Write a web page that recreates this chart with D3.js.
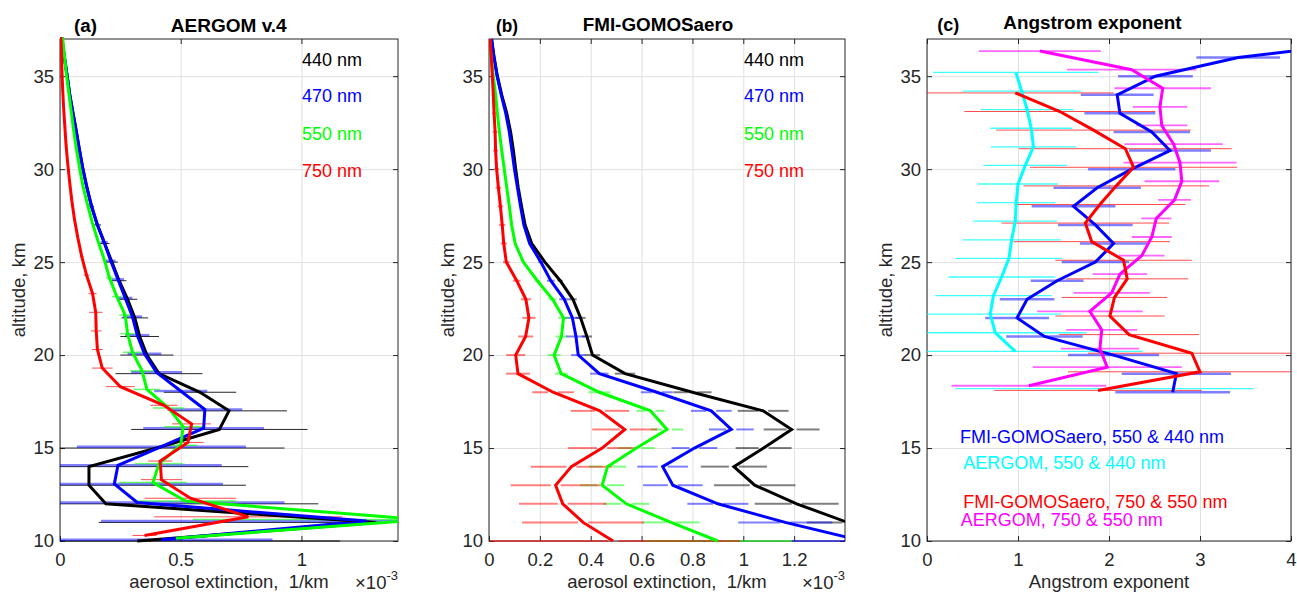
<!DOCTYPE html>
<html><head><meta charset="utf-8">
<script src="https://cdn.jsdelivr.net/npm/d3@7"></script>
<style>
body{margin:0;background:#fff}
svg{display:block}
text{font-family:"Liberation Sans",Arial,Helvetica,sans-serif}
</style>
</head><body>
<svg id="chart" width="1297" height="593"></svg>
<script>
// ---------------- DATA ----------------
// Panel (a) and (b): altitude grid, km
const altKm = [10,11,12,13,14,15,16,17,18,19,20,21,22,23,24,25,26,27,28,29,30,31,32,33,34,35,36,37];
// aerosol extinction in units of 1e-3 1/km
const aergom440    = [0.32,1.31,0.19,0.12,0.12,0.40,0.66,0.70,0.58,0.41,0.36,0.33,0.31,0.28,0.245,0.215,0.185,0.155,0.13,0.112,0.095,0.081,0.068,0.054,0.04,0.03,0.018,0.007];
const aergom440Err = [0.84,1.15,0.88,0.65,0.66,0.53,0.365,0.24,0.15,0.18,0.11,0.08,0.055,0.04,0.03,0.025,0.02,0.015,0.01,0,0,0,0,0,0,0,0,0];
const aergom470    = [0.42,1.27,0.32,0.225,0.24,0.42,0.595,0.60,0.50,0.40,0.35,0.32,0.30,0.27,0.24,0.21,0.183,0.153,0.13,0.11,0.094,0.08,0.067,0.053,0.04,0.029,0.018,0.008];
const aergom470Err = [0.46,1.1,0.61,0.45,0.43,0.35,0.25,0.155,0.11,0.105,0.07,0.05,0.04,0.03,0.025,0.02,0.015,0,0,0,0,0,0,0,0,0,0,0];
const aergom550    = [0.48,1.50,0.52,0.385,0.41,0.50,0.51,0.45,0.36,0.34,0.30,0.28,0.27,0.235,0.205,0.183,0.157,0.133,0.113,0.094,0.08,0.067,0.056,0.046,0.036,0.026,0.018,0.01];
const aergom550Err = [0.035,0.95,0.21,0.14,0.1,0.07,0.08,0.065,0.055,0.05,0.04,0.03,0.025,0.02,0.015,0,0,0,0,0,0,0,0,0,0,0,0,0];
const aergom750    = [0.35,0.78,0.54,0.42,0.415,0.53,0.545,0.43,0.25,0.175,0.155,0.15,0.148,0.135,0.11,0.09,0.074,0.06,0.049,0.04,0.032,0.025,0.02,0.015,0.011,0.008,0.006,0.003];
const aergom750Err = [0.05,0.39,0.19,0.085,0.05,0.065,0.08,0.057,0.06,0.043,0.022,0.022,0.028,0.017,0.012,0.008,0,0,0,0,0,0,0,0,0,0,0,0];

const fmi440    = [1.75,1.41,1.21,1.045,0.963,1.08,1.19,1.078,0.80,0.535,0.407,0.385,0.36,0.33,0.28,0.22,0.168,0.142,0.128,0.115,0.105,0.096,0.085,0.07,0.05,0.033,0.02,0.01];
const fmi440Err = [0.2,0.16,0.165,0.16,0.13,0.11,0.11,0.1,0.075,0.04,0.03,0.02,0.02,0.015,0.01,0,0,0,0,0,0,0,0,0,0,0,0,0];
const fmi470    = [1.47,1.165,0.90,0.723,0.683,0.808,0.953,0.874,0.66,0.434,0.351,0.342,0.328,0.296,0.243,0.204,0.16,0.137,0.124,0.112,0.10,0.09,0.08,0.066,0.048,0.032,0.02,0.01];
const fmi470Err = [0.28,0.185,0.12,0.117,0.1,0.09,0.088,0.08,0.063,0.036,0.028,0.04,0.033,0.02,0.015,0.01,0,0,0,0,0,0,0,0,0,0,0,0];
const fmi550    = [0.90,0.716,0.54,0.445,0.466,0.58,0.70,0.635,0.434,0.284,0.256,0.285,0.293,0.25,0.19,0.135,0.103,0.089,0.08,0.07,0.06,0.05,0.041,0.033,0.026,0.017,0.009,0.002];
const fmi550Err = [0.29,0.112,0.09,0.087,0.073,0.072,0.064,0.055,0.043,0.025,0.025,0.023,0.02,0.015,0.01,0,0,0,0,0,0,0,0,0,0,0,0,0];
const fmi750    = [0.488,0.37,0.29,0.262,0.324,0.445,0.534,0.436,0.252,0.114,0.105,0.144,0.157,0.145,0.109,0.068,0.058,0.052,0.045,0.037,0.03,0.026,0.024,0.02,0.017,0.013,0.009,0.004];
const fmi750Err = [0.5,0.24,0.172,0.177,0.16,0.135,0.128,0.115,0.082,0.047,0.037,0.03,0.026,0.02,0.015,0.013,0.012,0.012,0.011,0.011,0.01,0.01,0.009,0.008,0.007,0.006,0,0];

// Panel (c): Angstrom exponent
const altAE = [18,19,20,21,22,23,24,25,26,27,28,29,30,31,32,33,34,35,36,37];
const fmiAE550_440    = [2.70,2.74,2.05,1.29,0.99,1.10,1.43,1.85,2.05,1.85,1.61,1.87,2.25,2.67,2.47,2.12,2.09,2.51,3.42,5.1];
const fmiAE550_440Err = [0.63,0.6,0.5,0.42,0.35,0.3,0.29,0.37,0.37,0.41,0.46,0.48,0.48,0.45,0.42,0.39,0.4,0.41,0.46,0.5];
const fmiAE750_550    = [1.88,3.0,2.91,2.22,2.01,2.06,2.2,2.16,1.81,1.74,1.9,2.08,2.27,2.18,1.83,1.46,0.97,null,null,null];
const fmiAE750_550Err = [1.14,1.45,1.14,0.77,0.6,0.58,0.67,0.75,0.86,0.92,0.94,1.02,1.14,1.17,1.07,1.05,1.08,null,null,null];
const aergomAE550_440    = [1.95,null,0.97,0.75,0.695,0.73,0.82,0.9,0.93,0.97,0.98,1.0,1.08,1.17,1.145,1.1,1.04,0.977,null,null];
const aergomAE550_440Err = [1.64,null,1.4,1.0,0.78,0.64,0.585,0.585,0.54,0.46,0.43,0.44,0.46,0.47,0.45,0.51,0.65,0.91,null,null];
const aergomAE750_550    = [1.12,1.98,1.9,1.92,1.79,2.03,2.12,2.36,2.47,2.52,2.72,2.8,2.78,2.71,2.58,2.56,2.59,2.25,1.24,null];
const aergomAE750_550Err = [0.85,0.82,0.43,0.39,0.58,0.42,0.3,0.25,0.22,0.165,0.18,0.41,0.62,0.54,0.28,0.3,0.53,0.71,0.67,null];

// Tick values / labels
const yTicks = [10,15,20,25,30,35];
const xTicksA = [0,0.5,1];
const xTicksB = [0,0.2,0.4,0.6,0.8,1,1.2];
const xTicksC = [0,1,2,3,4];
const wavelengthLabels = ["440 nm","470 nm","550 nm","750 nm"];
const aeLabels = ["FMI-GOMOSaero, 550 & 440 nm","AERGOM, 550 & 440 nm","FMI-GOMOSaero, 750 & 550 nm","AERGOM, 750 & 550 nm"];

// ---------------- DRAWING ----------------
const svg = d3.select('#chart');
const TOP = 39, BOTTOM = 541;
const AX = '#262626', GRID = '#e0e0e0';
const FS = 18.5;

function mk(alt, vals, errs, opt){ return Object.assign({alt, vals, errs}, opt); }

const panels = [
  { id:'a', left:60, right:398, xDomain:[0,1.4], xTicks:xTicksA, fmt:d=>String(d),
    xlabel:'aerosol extinction,  1/km', exp:true,
    tag:'(a)', tagX:74, tagY:32.3, tagW:23,
    title:'AERGOM v.4', titleX:170.7, titleY:32.3, titleW:116,
    series:[
      mk(altKm, aergom440, aergom440Err, {off:0,    color:'#000000', barColor:'#000000', barW:1,   barOp:0.85}),
      mk(altKm, aergom470, aergom470Err, {off:0.07, color:'#0000ff', barColor:'#0000ff', barW:2.5, barOp:0.5}),
      mk(altKm, aergom550, aergom550Err, {off:0.15, color:'#00ff00', barColor:'#00ff00', barW:1.5, barOp:0.6}),
      mk(altKm, aergom750, aergom750Err, {off:0.3,  color:'#ff0000', barColor:'#ff0000', barW:1,   barOp:0.7})
    ],
    legend:{x:302, ys:[66,102,139.5,176.5], labels:wavelengthLabels, colors:['#000000','#0000ff','#00ff00','#ff0000']}
  },
  { id:'b', left:489, right:845, xDomain:[0,1.4], xTicks:xTicksB, fmt:d=>String(d),
    xlabel:'aerosol extinction,  1/km', exp:true,
    tag:'(b)', tagX:496, tagY:32.3, tagW:22,
    title:'FMI-GOMOSaero', titleX:582.7, titleY:30.7, titleW:150.7,
    series:[
      mk(altKm, fmi440, fmi440Err, {off:0, color:'#000000', barColor:'#000000', barW:2, barOp:0.5, gap:5}),
      mk(altKm, fmi470, fmi470Err, {off:0, color:'#0000ff', barColor:'#0000ff', barW:2, barOp:0.5, gap:5}),
      mk(altKm, fmi550, fmi550Err, {off:0, color:'#00ff00', barColor:'#00ff00', barW:2, barOp:0.5, gap:5}),
      mk(altKm, fmi750, fmi750Err, {off:0, color:'#ff0000', barColor:'#ff0000', barW:2, barOp:0.5, gap:5})
    ],
    legend:{x:744, ys:[66,102,139.5,176.5], labels:wavelengthLabels, colors:['#000000','#0000ff','#00ff00','#ff0000']}
  },
  { id:'c', left:927, right:1291, xDomain:[0,4], xTicks:xTicksC, fmt:d=>String(d),
    xlabel:'Angstrom exponent', exp:false,
    tag:'(c)', tagX:937.3, tagY:30.7, tagW:22,
    title:'Angstrom exponent', titleX:1003.3, titleY:29.3, titleW:178.3,
    series:[
      mk(altAE, aergomAE550_440, aergomAE550_440Err, {off:0.2,  color:'#00ffff', barColor:'#00ffff', barW:1.3, barOp:0.75}),
      mk(altAE, fmiAE550_440,    fmiAE550_440Err,    {off:0,    color:'#0000ff', barColor:'#0000ff', barW:2.5, barOp:0.5}),
      mk(altAE, aergomAE750_550, aergomAE750_550Err, {off:0.35, color:'#ff00ff', barColor:'#ff00ff', barW:1.8, barOp:0.6}),
      mk(altAE, fmiAE750_550,    fmiAE750_550Err,    {off:0.1,  color:'#ff0000', barColor:'#ff0000', barW:1,   barOp:0.7})
    ],
    legend:{x:[960,963.3,963.3,960.7], ys:[443,469,508,526], labels:aeLabels, colors:['#0000ff','#00ffff','#ff0000','#ff00ff']}
  }
];

const y = d3.scaleLinear().domain([10,37]).range([BOTTOM, TOP]);

panels.forEach(p => {
  const g = svg.append('g');
  const x = d3.scaleLinear().domain(p.xDomain).range([p.left, p.right]);
  const W = p.right - p.left, H = BOTTOM - TOP;

  // grid
  g.append('g').attr('transform', `translate(0,${BOTTOM})`)
    .call(d3.axisBottom(x).tickValues(p.xTicks).tickSize(-H).tickFormat(''))
    .call(s => { s.select('.domain').remove(); s.selectAll('line').attr('stroke', GRID); });
  g.append('g').attr('transform', `translate(${p.left},0)`)
    .call(d3.axisLeft(y).tickValues(yTicks).tickSize(-W).tickFormat(''))
    .call(s => { s.select('.domain').remove(); s.selectAll('line').attr('stroke', GRID); });

  // frame
  g.append('rect').attr('x', p.left).attr('y', TOP).attr('width', W).attr('height', H)
    .attr('fill', 'none').attr('stroke', AX).attr('stroke-width', 1);

  const styleAxis = s => {
    s.select('.domain').remove();
    s.selectAll('line').attr('stroke', AX);
    s.attr('font-size', FS).attr('font-family', '"Liberation Sans",Arial,Helvetica,sans-serif');
    s.selectAll('text').attr('fill', AX);
  };
  g.append('g').attr('transform', `translate(0,${BOTTOM})`)
    .call(d3.axisBottom(x).tickValues(p.xTicks).tickSizeInner(-5).tickSizeOuter(0).tickPadding(12).tickFormat(p.fmt)).call(styleAxis);
  g.append('g').attr('transform', `translate(0,${TOP})`)
    .call(d3.axisTop(x).tickValues(p.xTicks).tickSizeInner(-5).tickSizeOuter(0).tickFormat('')).call(styleAxis);
  g.append('g').attr('transform', `translate(${p.left},0)`)
    .call(d3.axisLeft(y).tickValues(yTicks).tickSizeInner(-5).tickSizeOuter(0).tickPadding(6)).call(styleAxis);
  g.append('g').attr('transform', `translate(${p.right},0)`)
    .call(d3.axisRight(y).tickValues(yTicks).tickSizeInner(-5).tickSizeOuter(0).tickFormat('')).call(styleAxis);

  // clip
  const clipId = 'clip-' + p.id;
  svg.append('clipPath').attr('id', clipId).append('rect')
    .attr('x', p.left).attr('y', TOP - 2).attr('width', W).attr('height', H + 4);
  const dg = g.append('g').attr('clip-path', `url(#${clipId})`);

  // error bars
  p.series.forEach(s => {
    const bg = dg.append('g').attr('stroke', s.barColor).attr('stroke-width', s.barW).attr('stroke-opacity', s.barOp);
    s.vals.forEach((v, i) => {
      const e = s.errs[i];
      if (v == null || e == null || e <= 0) return;
      const yy = y(s.alt[i] + s.off);
      const x0 = x(v - e), x1 = x(v + e), xc = x(v);
      const segs = [];
      if (s.gap && (xc - x0) > 2.5 * s.gap) {
        segs.push([x0, xc - s.gap], [xc + s.gap, x1]);
      } else segs.push([x0, x1]);
      segs.forEach(sg => bg.append('line').attr('x1', sg[0]).attr('x2', sg[1]).attr('y1', yy).attr('y2', yy));
    });
  });

  // lines
  p.series.forEach(s => {
    const pts = s.vals.map((v, i) => ({v, h: s.alt[i] + s.off}));
    const line = d3.line().defined(d => d.v != null).x(d => x(d.v)).y(d => y(d.h));
    dg.append('path').datum(pts).attr('d', line).attr('fill', 'none')
      .attr('stroke', s.color).attr('stroke-width', 3).attr('stroke-linejoin', 'miter').attr('stroke-miterlimit', 3);
  });

  // legend texts
  p.legend.labels.forEach((lab, i) => {
    const lx = Array.isArray(p.legend.x) ? p.legend.x[i] : p.legend.x;
    g.append('text').attr('x', lx).attr('y', p.legend.ys[i]).attr('font-size', 18)
      .attr('fill', p.legend.colors[i]).text(lab);
  });

  // axis labels
  g.append('text').attr('x', (p.left + p.right) / 2).attr('y', 588).attr('text-anchor', 'middle')
    .attr('font-size', FS).attr('fill', AX).attr('xml:space', 'preserve').style('white-space', 'pre').text(p.xlabel);
  if (p.exp) {
    const t = g.append('text').attr('x', p.right).attr('y', 588.5).attr('text-anchor', 'end')
      .attr('font-size', FS).attr('fill', AX);
    t.append('tspan').text('×10');
    t.append('tspan').attr('dy', -9).attr('font-size', 13).text('-3');
  }
  g.append('text').attr('transform', `translate(${p.left - 35},${(TOP + BOTTOM) / 2}) rotate(-90)`)
    .attr('text-anchor', 'middle').attr('font-size', FS).attr('fill', AX).text('altitude, km');

  // titles
  g.append('text').attr('x', p.tagX).attr('y', p.tagY).attr('font-size', 17.5).attr('font-weight', 'bold')
    .attr('fill', '#000').attr('textLength', p.tagW).attr('lengthAdjust', 'spacingAndGlyphs').text(p.tag);
  g.append('text').attr('x', p.titleX).attr('y', p.titleY).attr('font-size', 17.5).attr('font-weight', 'bold')
    .attr('fill', '#000').attr('textLength', p.titleW).attr('lengthAdjust', 'spacingAndGlyphs').text(p.title);
});
</script>
</body></html>
